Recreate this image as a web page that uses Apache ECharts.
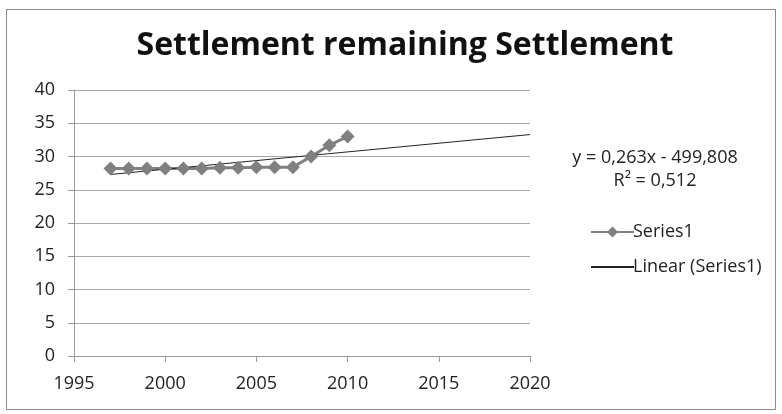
<!DOCTYPE html>
<html><head><meta charset="utf-8">
<script src="https://cdn.jsdelivr.net/npm/echarts@6/dist/echarts.min.js"></script>
<style>html,body{margin:0;padding:0;background:#fff}#c{width:782px;height:414px}</style>
</head><body><div id="c"></div>
<script>
const years = [1997,1998,1999,2000,2001,2002,2003,2004,2005,2006,2007,2008,2009,2010];
const values = [28.2,28.2,28.2,28.2,28.2,28.2,28.3,28.3,28.4,28.4,28.4,30.0,31.7,33.0];
const trendYears = [1997, 2020];
const trendValues = [27.3, 33.3];
const xTicks = [1995,2000,2005,2010,2015,2020];
const yTicks = [0,5,10,15,20,25,30,35,40];
const titleText = 'Settlement remaining Settlement';
const eqLines = ['y = 0,263x - 499,808', 'R² = 0,512'];

const chart = echarts.init(document.getElementById('c'));
const font = '"Open Sans", sans-serif';
chart.setOption({
  animation: false,
  title: {text: titleText, left: 400, top: 25, textAlign: 'center',
    textStyle: {fontFamily: font, fontWeight: 'bold', fontSize: 32, color: '#111'}},
  graphic: [
    {type: 'rect', shape: {x: 6.5, y: 9.5, width: 769, height: 400},
     style: {fill: 'none', stroke: '#8a8a8a', lineWidth: 1}},
    {type: 'text', x: 655, y: 158, style: {text: eqLines[0], font: '18px ' + font, fill: '#222', align: 'center', verticalAlign: 'middle'}},
    {type: 'text', x: 655, y: 181, style: {text: eqLines[1], font: '18px ' + font, fill: '#222', align: 'center', verticalAlign: 'middle'}}
  ],
  grid: {left: 74, right: 252, top: 90, bottom: 58},
  legend: {
    orient: 'vertical', left: 585, top: 217, itemWidth: 43, itemHeight: 14, itemGap: 15,
    textStyle: {fontFamily: font, fontSize: 18, lineHeight: 20, color: '#222', padding: [0,0,0,-6]},
    data: [{name: 'Series1'}, {name: 'Linear (Series1)', itemStyle: {opacity: 0}}]
  },
  xAxis: {
    type: 'value', min: xTicks[0], max: xTicks[xTicks.length-1], interval: 5,
    axisLine: {lineStyle: {color: '#999'}},
    axisTick: {show: true, length: 6, lineStyle: {color: '#999'}},
    axisLabel: {fontFamily: font, fontSize: 18, color: '#222', margin: 19, formatter: v => String(v)},
    splitLine: {show: false}
  },
  yAxis: {
    type: 'value', min: yTicks[0], max: yTicks[yTicks.length-1], interval: 5,
    axisLine: {show: true, lineStyle: {color: '#999'}},
    axisTick: {show: true, length: 6, lineStyle: {color: '#999'}},
    axisLabel: {fontFamily: font, fontSize: 18, color: '#222', margin: 19},
    splitLine: {lineStyle: {color: '#a8a8a8'}}
  },
  series: [
    {name: 'Series1', type: 'line', data: years.map((y,i)=>[y, values[i]]),
     symbol: 'diamond', symbolSize: 14,
     lineStyle: {color: '#808080', width: 3}, itemStyle: {color: '#808080'}},
    {name: 'Linear (Series1)', type: 'line', data: trendYears.map((y,i)=>[y, trendValues[i]]),
     symbol: 'none', lineStyle: {color: '#222', width: 1}, itemStyle: {color: '#222'}, z: 3}
  ]
});
</script></body></html>
